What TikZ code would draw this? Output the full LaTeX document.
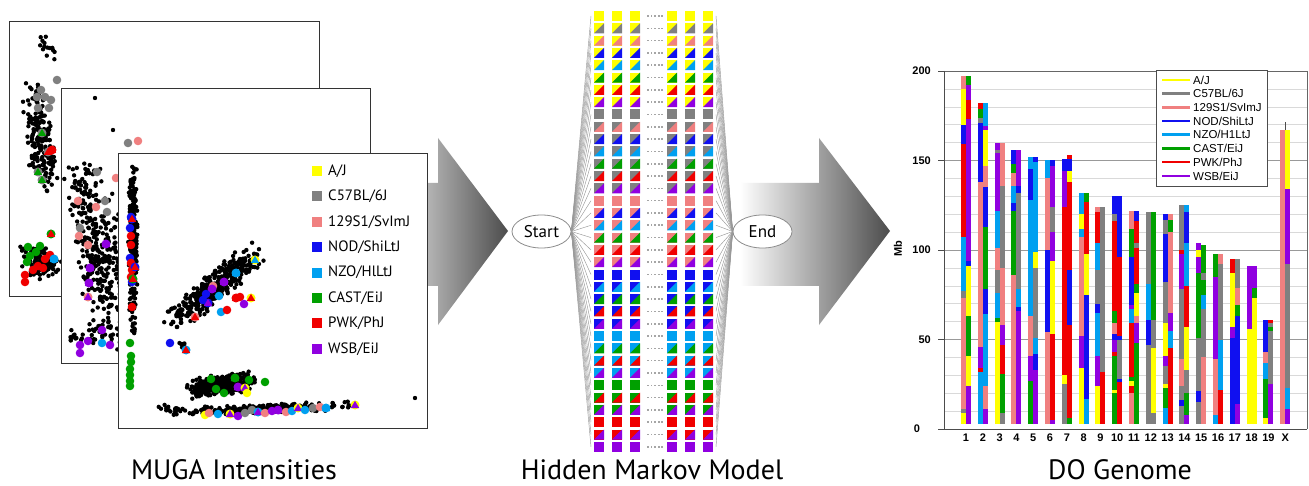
\documentclass[tikz,border=0pt]{standalone}
\usepackage{fontspec}
\setmainfont{PT Sans}
\newfontfamily\arialf{Liberation Sans}
\usetikzlibrary{shapes.geometric}
\definecolor{kY}{HTML}{FFFF00}
\definecolor{kG}{HTML}{808080}
\definecolor{kP}{HTML}{F08080}
\definecolor{kD}{HTML}{1010F0}
\definecolor{kL}{HTML}{00A0F0}
\definecolor{kN}{HTML}{00A000}
\definecolor{kR}{HTML}{F00000}
\definecolor{kV}{HTML}{9000E0}
\colorlet{c1}{kY}\colorlet{c2}{kG}\colorlet{c3}{kP}\colorlet{c4}{kD}
\colorlet{c5}{kL}\colorlet{c6}{kN}\colorlet{c7}{kR}\colorlet{c8}{kV}
\definecolor{arrLight}{HTML}{BDBDBD}
\definecolor{arrDark}{HTML}{4C4C4C}
\newcommand\dotcloud[6]{%
  \foreach \i in {1,...,#1}{%
    \pgfmathsetmacro\uu{(rand+rand)/2*#4}%
    \pgfmathsetmacro\vv{(rand+rand)/2*#5}%
    \fill[black] ({#2+\uu*cos(#6)-\vv*sin(#6)},{#3+\uu*sin(#6)+\vv*cos(#6)}) circle (2.2);
  }}
\newcommand\mkc[3]{\fill[#3] (#1,#2) circle (4.3);}
\newcommand\mkt[4]{\fill[#3] (#1,#2) circle (4.5);\fill[#4] (#1,#2-4.2) -- (#1+4.2,#2+3) -- (#1-4.2,#2+3) -- cycle;}
\newcommand\chrbar[2]{%
  \xdef\prevmb{3}%
  \foreach \e/\c in {#2}{%
    \fill[k\c] (#1,{429-1.79*\prevmb}) rectangle (#1+5,{429-1.79*\e});
    \xdef\prevmb{\e}%
  }}
\begin{document}
\begin{tikzpicture}[x=1pt,y=-1pt,
  panel/.style={draw=black!80,line width=0.9pt},
  legtxt/.style={anchor=west,inner sep=0pt,font=\fontsize{15}{17}\selectfont},
  state/.style={ellipse,draw=black!45,fill=white,line width=0.8pt,minimum width=59pt,minimum height=33pt,inner sep=0pt,font=\fontsize{17}{19}\selectfont},
  fan/.style={draw=black!40,line width=0.45pt},
  title/.style={font=\fontsize{28}{30}\selectfont,inner sep=0pt},
  tick/.style={font=\arialf\bfseries\fontsize{11}{13}\selectfont,inner sep=0pt},
  cleg/.style={font=\arialf\fontsize{11.5}{13}\selectfont,inner sep=0pt,anchor=west},
  minorgrid/.style={draw=black!15,line width=0.5pt},
  majorgrid/.style={draw=black!40,line width=0.6pt}]
\useasboundingbox (0,0) rectangle (1309,486);
\fill[white] (0,0) rectangle (1309,486);
\pgfmathsetseed{7}
% ---------- left arrow
\shade[left color=arrLight,right color=arrDark] (420,183) -- (438,183) -- (438,138) -- (508,231) -- (438,325) -- (438,286) -- (420,286) -- cycle;
% ---------- panel 1
\fill[white] (9,21) rectangle (319,296);
\begin{scope}
\clip (9,21) rectangle (319,296);
\dotcloud{190}{40}{135}{62}{15}{83}
\dotcloud{14}{47}{48}{16}{6}{60}
\dotcloud{120}{40}{262}{24}{18}{5}
\mkc{57}{80}{kG}\mkc{41}{90}{kG}\mkc{45}{97}{kG}\mkc{37}{97}{kG}\mkc{51}{100}{kG}\mkc{38}{108}{kG}\mkc{49}{108}{kG}
\mkt{42}{133}{kG}{kN}\mkt{48}{152}{kG}{kR}\mkt{52}{150}{kR}{kR}\mkt{38}{172}{kG}{kN}\mkt{42}{180}{kG}{kN}
\mkc{28}{247}{kN}\mkc{30}{256}{kN}\mkc{36}{252}{kN}\mkc{40}{246}{kN}\mkc{27}{262}{kN}
\mkc{38}{266}{kR}\mkc{45}{259}{kR}\mkc{33}{270}{kR}\mkc{25}{275}{kR}\mkc{25}{282}{kR}\mkc{43}{268}{kR}\mkc{50}{255}{kR}
\mkt{51}{234}{kN}{kR}\mkt{54}{259}{kL}{kL}
\end{scope}
\draw[panel] (9,21) rectangle (319,296);
% ---------- panel 2
\fill[white] (61,88) rectangle (370,363);
\begin{scope}
\clip (61,88) rectangle (370,363);
\dotcloud{360}{100}{255}{105}{28}{78}
\dotcloud{30}{90}{335}{30}{10}{-10}
\fill (95,98) circle (2.2);\fill (113,130) circle (2.2);
\mkc{138}{141}{kP}\mkc{128}{143}{kG}\mkc{78}{201}{kP}\mkc{96}{207}{kP}\mkc{105}{201}{kG}\mkc{97}{172}{kG}
\mkc{88}{245}{kP}\mkc{80}{228}{kG}\mkc{79}{236}{kP}\mkc{107}{212}{kG}\mkc{116}{178}{kP}
\mkt{90}{268}{kV}{kV}\mkt{89}{283}{kV}{kV}\mkt{106}{244}{kV}{kV}\mkt{88}{297}{kP}{kV}
\mkc{80}{345}{kV}\mkc{88}{341}{kV}\mkc{80}{353}{kV}\mkc{102}{330}{kV}\mkc{110}{345}{kV}\mkc{102}{343}{kL}
\end{scope}
\draw[panel] (61,88) rectangle (370,363);
% ---------- panel 3
\fill[white] (118,153) rectangle (427,428);
\begin{scope}
\clip (118,153) rectangle (427,428);
\dotcloud{260}{133}{240}{80}{5}{90}
\dotcloud{12}{133}{325}{12}{3}{90}
\dotcloud{420}{215}{287}{62}{15}{-40}
\dotcloud{10}{181}{345}{9}{4}{20}
\dotcloud{380}{222}{385}{36}{11}{-6}
\dotcloud{260}{258}{409}{100}{5}{-2}
\dotcloud{14}{172}{408}{14}{6}{0}
\fill (415,398) circle (2.2);
\mkc{131}{217}{kD}\mkc{130}{228}{kD}\mkc{131}{236}{kR}\mkc{131}{245}{kR}\mkc{130}{258}{kD}\mkc{131}{263}{kR}
\mkc{132}{270}{kR}\mkc{131}{277}{kR}\mkc{132}{282}{kD}\mkc{132}{307}{kR}
\mkt{132}{219}{kD}{kR}\mkt{135}{267}{kD}{kR}\mkt{133}{279}{kN}{kR}
\mkc{130}{343}{kN}\mkc{131}{356}{kN}\mkc{131}{362}{kN}\mkc{130}{369}{kN}\mkc{130}{375}{kN}\mkc{130}{381}{kN}\mkc{130}{386}{kN}
\mkt{255}{260}{kY}{kL}\mkt{236}{273}{kL}{kL}\mkt{224}{282}{kV}{kV}\mkc{213}{286}{kP}\mkt{212}{289}{kV}{kV}
\mkc{206}{294}{kD}\mkc{203}{300}{kD}\mkt{208}{303}{kD}{kV}\mkc{219}{296}{kL}\mkt{236}{298}{kR}{kR}
\mkc{240}{297}{kR}\mkt{251}{298}{kY}{kR}\mkc{244}{304}{kV}\mkc{221}{312}{kL}\mkc{227}{310}{kR}\mkt{195}{317}{kP}{kR}
\mkc{170}{343}{kD}\mkt{186}{350}{kL}{kR}
\mkc{211}{379}{kN}\mkc{216}{389}{kN}\mkc{224}{393}{kN}\mkt{235}{378}{kN}{kN}\mkc{249}{380}{kN}
\mkt{238}{387}{kV}{kV}\mkt{245}{388}{kY}{kV}\mkc{265}{382}{kN}\mkc{247}{393}{kY}
\mkc{205}{415}{kY}\mkc{209}{413}{kP}\mkc{218}{414}{kL}\mkt{230}{414}{kY}{kV}\mkc{238}{416}{kV}\mkc{245}{413}{kG}
\mkc{252}{410}{kG}\mkt{258}{412}{kL}{kV}\mkc{265}{413}{kP}\mkc{272}{411}{kV}\mkt{278}{410}{kV}{kV}\mkc{286}{412}{kP}
\mkc{292}{411}{kL}\mkt{298}{408}{kY}{kV}\mkc{305}{410}{kL}\mkc{313}{408}{kG}\mkc{320}{407}{kP}\mkt{326}{408}{kL}{kL}
\mkt{355}{405}{kY}{kV}
\end{scope}
\draw[panel] (118,153) rectangle (427,428);
% legend in panel 3
\foreach \n/\c/\t in {0/kY/A\slash J,1/kG/C57BL\slash 6J,2/kP/129S1\slash SvImJ,3/kD/NOD\slash ShiLtJ,4/kL/NZO\slash HlLtJ,5/kN/CAST\slash EiJ,6/kR/PWK\slash PhJ,7/kV/WSB\slash EiJ}{
  \fill[\c] (312,{166+\n*25.4}) rectangle ++(10,10);
  \node[legtxt] (pl\n) at (328,{171+\n*25.4}) {\t};
}
% ---------- right arrow
\shade[left color=white,right color=arrDark] (740,183) -- (819,183) -- (819,138) -- (890,231) -- (819,325) -- (819,286) -- (740,286) -- cycle;
% ---------- HMM
\node[state] (start) at (541.5,231.5) {Start};
\node[state] (end) at (762.5,231.5) {End};
\foreach \a in {1,...,8}{
 \foreach \b in {\a,...,8}{
  \pgfmathtruncatemacro\k{(\a-1)*9-(\a-1)*\a/2+\b-\a+1}
  \pgfmathsetmacro\yy{11+(\k-1)*12.31}
  \foreach \x in {594,612,630,667,685,703}{
    \fill[c\a] (\x,\yy) rectangle ++(10,10);
    \ifnum\a<\b \fill[c\b] (\x,\yy+10) -- ++(10,0) -- ++(0,-10) -- cycle;\fi
  }
  \foreach \d in {0,1,2,3,4}{\fill[black!35] (647+\d*3.6,\yy+4.2) rectangle ++(1.8,1.6);}
  \coordinate (L\k) at (591,\yy+5);
  \coordinate (R\k) at (716,\yy+5);
 }}
\foreach \k in {1,...,36}{
  \draw[fan] (start.east) -- (L\k);
  \draw[fan] (R\k) -- (end.west);
}
% ---------- chart
\foreach \m in {10,20,30,40,60,70,80,90,110,120,130,140,160,170,180,190}
  \draw[minorgrid] (944,{429-1.79*\m}) -- (1307,{429-1.79*\m});
\foreach \m in {50,100,150}
  \draw[majorgrid] (944,{429-1.79*\m}) -- (1307,{429-1.79*\m});
\draw[black!60,line width=0.7pt] (944,71) -- (1307,71) -- (1307,429);
\foreach \m in {0,50,100,150,200}
  \draw[black!70,line width=0.7pt] (938,{429-1.79*\m}) -- (944,{429-1.79*\m});
\chrbar{961}{9/Y,11/G,73/P,77/G,107/L,159/R,170/D,190/Y,197/P}
\chrbar{966}{24/V,41/Y,63/N,91/Y,94/D,173/V,184/R,192/V,197/N}
\chrbar{977.8}{32/L,34/R,46/V,138/P,171/D,174/G,179/N,182/R}
\chrbar{982.8}{11/V,24/P,64/L,78/D,113/N,135/D,147/P,167/Y,169/V,182/L}
\chrbar{994.6}{60/Y,62/N,76/L,89/G,101/P,122/L,154/V,156/G,160/V}
\chrbar{999.6}{9/G,31/N,47/R,58/V,90/P,136/G,160/P}
\chrbar{1011.4}{86/P,122/N,126/D,136/L,143/P,148/N,156/D}
\chrbar{1016.4}{66/V,68/D,78/L,132/G,136/D,156/V}
\chrbar{1028.2}{27/N,41/V,63/P,128/L,145/D,152/L}
\chrbar{1033.2}{33/V,42/D,51/L,90/G,99/Y,149/L,152/D}
\chrbar{1045}{54/P,100/D,140/P,150/L}
\chrbar{1050}{5/V,53/R,94/Y,110/V,124/G,147/V,150/D}
\chrbar{1061.8}{25/G,30/Y,124/R,144/V,151/D}
\chrbar{1066.8}{6/N,58/R,89/D,138/R,144/Y,151/D,153/R}
\chrbar{1078.6}{34/Y,52/V,107/P,112/L,120/Y,132/L}
\chrbar{1083.6}{17/L,75/D,98/Y,127/R,132/N}
\chrbar{1095.4}{24/Y,41/V,65/L,70/D,89/G,104/L,121/R,124/P}
\chrbar{1100.4}{32/R,124/G}
\chrbar{1112.2}{20/N,22/Y,41/N,43/R,50/V,53/D,59/P,66/N,116/R,120/G,130/D}
\chrbar{1117.2}{26/R,28/D,50/G,52/D,96/R,130/D}
\chrbar{1129}{20/P,24/R,27/Y,29/N,59/R,67/L,69/V,96/D,112/N,122/P}
\chrbar{1134}{48/N,59/V,63/P,76/Y,81/N,101/R,104/G,116/R,122/D}
\chrbar{1145.8}{47/G,61/D,81/L,121/G}
\chrbar{1150.8}{9/G,45/Y,61/G,121/N}
\chrbar{1162.6}{12/L,23/N,25/Y,35/G,41/V,59/Y,82/G,109/D,117/G,120/D}
\chrbar{1167.6}{45/R,55/L,65/V,110/P,117/N,120/P}
\chrbar{1179.4}{13/G,16/D,24/G,39/P,78/G,98/V,100/R,125/G}
\chrbar{1184.4}{8/V,20/N,33/G,57/Y,80/R,104/L,121/D,125/L}
\chrbar{1196.2}{15/G,21/D,51/G,87/N,96/V,100/Y,104/V}
\chrbar{1201.2}{40/P,67/G,75/L,83/N,87/G,103/N}
\chrbar{1213}{8/L,39/P,85/V,98/N}
\chrbar{1218}{22/R,50/L,92/G,98/P}
\chrbar{1229.8}{51/D,57/V,87/Y,95/R}
\chrbar{1234.8}{14/V,63/D,69/N,79/P,95/G}
\chrbar{1246.6}{56/Y,91/V}
\chrbar{1251.6}{73/Y,79/N,91/V}
\chrbar{1263.4}{6/Y,28/N,37/L,43/P,61/D}
\chrbar{1268.4}{25/V,55/G,57/N,59/G,61/R}
\chrbar{1280.2}{167/P}
\chrbar{1285.2}{11/V,23/L,92/G,134/V,167/Y}
\draw[black!70,line width=0.5pt] (1285.2,{429-1.79*167}) -- (1285.2,{429-1.79*171.5});
\draw[black!70,line width=0.8pt] (944,71) -- (944,429) -- (1307,429);
% tick labels
\node[tick,anchor=east] (t200) at (931,71) {200};
\node[tick,anchor=east] (t150) at (931,160.5) {150};
\node[tick,anchor=east] (t100) at (931,250) {100};
\node[tick,anchor=east] (t50) at (931,339.5) {50};
\node[tick] (t0) at (917,429) {0};
\node[tick,rotate=90] (mb) at (898,249) {Mb};
\foreach \i/\l in {1/1,2/2,3/3,4/4,5/5,6/6,7/7,8/8,9/9,10/10,11/11,12/12,13/13,14/14,15/15,16/16,17/17,18/18,19/19,20/X}
  \node[tick] (x\i) at ({966+(\i-1)*16.8},437.5) {\l};
% chart legend
\draw[black!70,fill=white,line width=0.7pt] (1156,70) rectangle (1267,186);
\foreach \n/\c/\t in {0/kY/A\slash J,1/kG/C57BL\slash 6J,2/kP/129S1\slash SvImJ,3/kD/NOD\slash ShiLtJ,4/kL/NZO\slash H1LtJ,5/kN/CAST\slash EiJ,6/kR/PWK\slash PhJ,7/kV/WSB\slash EiJ}{
  \draw[\c,line width=2.6pt] (1162,{80+\n*13.7}) -- (1190,{80+\n*13.7});
  \node[cleg] (cl\n) at (1193,{80+\n*13.7}) {\t};
}
% ---------- titles
\node[title] (ttl1) at (234,470) {MUGA Intensities};
\node[title] (ttl2) at (652,470) {Hidden Markov Model};
\node[title] (ttl3) at (1120,470) {DO Genome};
\end{tikzpicture}
\end{document}
